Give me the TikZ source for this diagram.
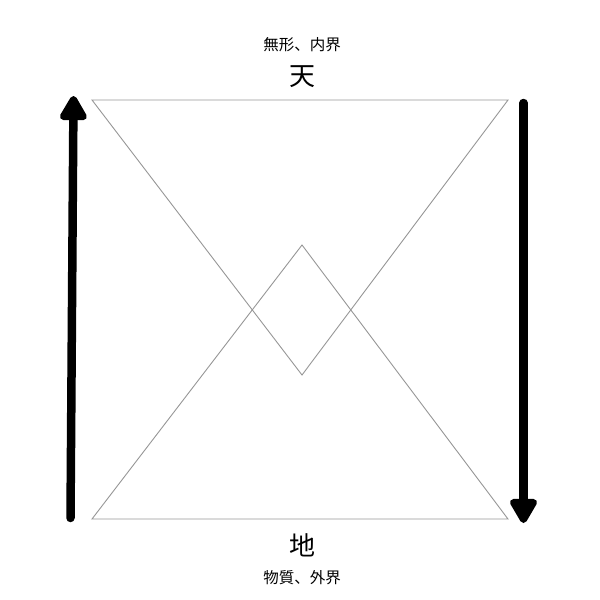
\documentclass[tikz,border=0pt]{standalone}
\usepackage{fontspec}
\newfontfamily\cjk{Noto Sans CJK JP}
\usetikzlibrary{arrows.meta}
\begin{document}
\begin{tikzpicture}[x=1pt,y=-1pt,
  tri/.style={draw={rgb,255:red,150;green,150;blue,150},line width=0.9pt},
  bigarrow/.style={line width=8.5pt,line cap=round,-{Triangle[width=30pt,length=28pt,round]}},
  small/.style={font=\cjk\fontsize{15.5}{18}\selectfont,inner sep=0pt},
  big/.style={font=\cjk\fontsize{26}{30}\selectfont,inner sep=0pt}]
\useasboundingbox (0,0) rectangle (600,600);
% downward triangle
\coordinate (dtl) at (92,100);
\coordinate (dtr) at (508,100);
\coordinate (dta) at (302,375);
\draw[tri] (dtl) -- (dtr) -- (dta) -- cycle;
% upward triangle
\coordinate (utl) at (92,519);
\coordinate (utr) at (508,519);
\coordinate (uta) at (302,245);
\draw[tri] (utl) -- (utr) -- (uta) -- cycle;
% arrows
\coordinate (la) at (70.5,518);
\coordinate (lb) at (73.5,96);
\draw[bigarrow] (la) -- (lb);
\coordinate (ra) at (523.5,103);
\coordinate (rb) at (523.5,523);
\draw[bigarrow] (ra) -- (rb);
% texts
\node[small] (t1) at (302,45) {無形、内界};
\node[big] (t2) at (302,77) {天};
\node[big] (t3) at (302,545) {地};
\node[small] (t4) at (302,578) {物質、外界};
\end{tikzpicture}
\end{document}
